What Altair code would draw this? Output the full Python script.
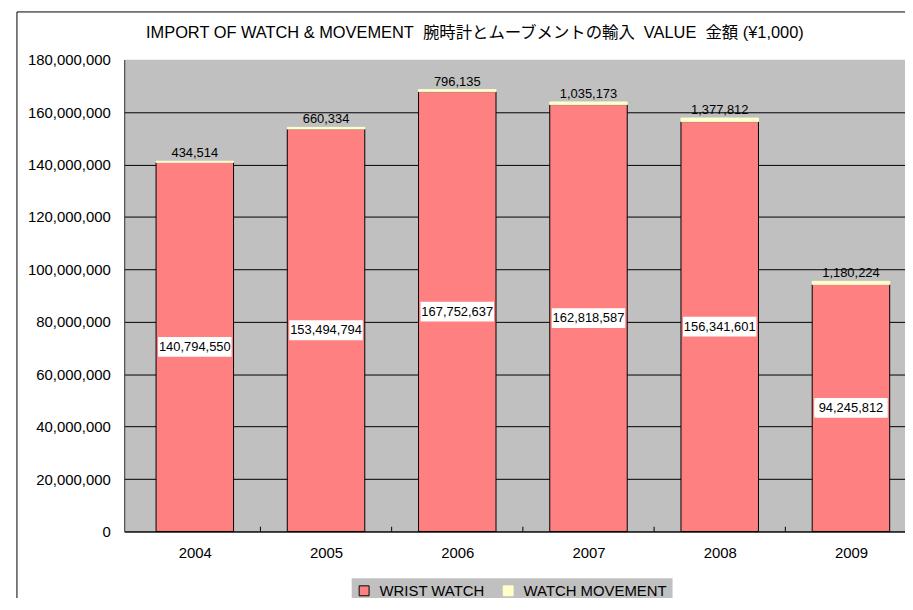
import altair as alt
import pandas as pd

years = [2004, 2005, 2006, 2007, 2008, 2009]
wrist_watch = [140794550, 153494794, 167752637, 162818587, 156341601, 94245812]
watch_movement = [434514, 660334, 796135, 1035173, 1377812, 1180224]
series = ["WRIST WATCH", "WATCH MOVEMENT"]
fill_colors = ["#FF8080", "#FFFFCC"]
stroke_colors = ["#000000", "#FFFFCC"]
y_ticks = [0, 20000000, 40000000, 60000000, 80000000, 100000000,
           120000000, 140000000, 160000000, 180000000]
title_text = ("IMPORT OF WATCH & MOVEMENT\u00a0\u00a0腕時計とムーブメントの輸入"
              "\u00a0\u00a0VALUE\u00a0\u00a0金額 (¥1,000)")

rows = []
for yr, w, m in zip(years, wrist_watch, watch_movement):
    rows.append({"year": yr, "type": series[0], "value": w, "ord": 0})
    rows.append({"year": yr, "type": series[1], "value": m, "ord": 1})
long_df = pd.DataFrame(rows)
wide_df = pd.DataFrame({"year": years, "wrist": wrist_watch, "movement": watch_movement})
bounds_df = pd.DataFrame({"b": [y + 0.5 for y in years[:-1]]})

FONT = "Liberation Sans"
xs = alt.Scale(domain=[2003.5, 2009.374], nice=False, zero=False)
ys = alt.Scale(domain=[0, 180000000], nice=False)

one = alt.Data(values=[{}])

frame = alt.Chart(one).mark_rect(
    fill="transparent", stroke="black", strokeWidth=1
).encode(x=alt.value(-108), x2=alt.value(900), y=alt.value(-48), y2=alt.value(700))

title = alt.Chart(one).mark_text(
    text=title_text, font="Liberation Sans, Noto Sans CJK JP", fontSize=16.5,
    color="black", align="center", baseline="middle"
).encode(x=alt.value(353), y=alt.value(-27))

bars = alt.Chart(long_df).mark_bar(size=78, strokeWidth=1).encode(
    x=alt.X("year:Q", scale=xs,
            axis=alt.Axis(values=years, format="d", title=None, ticks=False, grid=False,
                          domainColor="black", labelFontSize=15, labelPadding=14,
                          labelFont=FONT, labelColor="black")),
    y=alt.Y("value:Q", stack="zero", scale=ys,
            axis=alt.Axis(values=y_ticks, format=",d", title=None, ticks=False,
                          gridColor={"condition": {"test": "datum.value == 180000000",
                                                   "value": "transparent"},
                                     "value": "black"},
                          gridOpacity=1, gridWidth=1,
                          domainColor="#333333", labelFontSize=15, labelPadding=14,
                          labelFont=FONT, labelColor="black")),
    fill=alt.Fill("type:N", scale=alt.Scale(domain=series, range=fill_colors),
                  legend=alt.Legend(title=None)),
    stroke=alt.Stroke("type:N", scale=alt.Scale(domain=series, range=stroke_colors),
                      legend=alt.Legend(title=None)),
    order=alt.Order("ord:Q"),
)

ticks = alt.Chart(bounds_df).mark_rule(color="black", strokeWidth=1).encode(
    x=alt.X("b:Q", scale=xs),
    y=alt.datum(0),
    y2=alt.datum(1800000),
)

base = alt.Chart(wide_df).transform_calculate(
    mid="datum.wrist / 2", total="datum.wrist + datum.movement"
)

boxes = base.mark_point(
    shape="M-1,-0.27L1,-0.27L1,0.27L-1,0.27Z", size=5476, filled=True,
    fill="white", opacity=1, strokeWidth=0
).encode(x=alt.X("year:Q", scale=xs), y=alt.Y("mid:Q", scale=ys))

wrist_labels = base.mark_text(font=FONT, fontSize=13, color="black").encode(
    x=alt.X("year:Q", scale=xs), y=alt.Y("mid:Q", scale=ys),
    text=alt.Text("wrist:Q", format=",d"),
)

move_labels = base.mark_text(font=FONT, fontSize=13, color="black",
                             baseline="alphabetic", dy=-4).encode(
    x=alt.X("year:Q", scale=xs), y=alt.Y("total:Q", scale=ys),
    text=alt.Text("movement:Q", format=",d"),
)

chart = alt.layer(frame, title, bars, ticks, boxes, wrist_labels, move_labels).properties(
    width=786, height=475,
    autosize=alt.AutoSizeParams(type="none"),
    padding={"left": 117, "top": 50, "right": 0, "bottom": 65},
    background="white",
).configure_view(
    stroke=None, fill="#C0C0C0"
).configure_legend(
    orient="none", legendX=229, legendY=522, direction="horizontal",
    fillColor="#C0C0C0", padding=5, symbolType="square", symbolSize=100,
    symbolStrokeWidth=1, labelFontSize=15, labelFont=FONT, labelColor="black",
    labelOffset=8, columnPadding=16, strokeColor=None
)

chart.save("out.html", embed_options={"renderer": "svg", "actions": False})
